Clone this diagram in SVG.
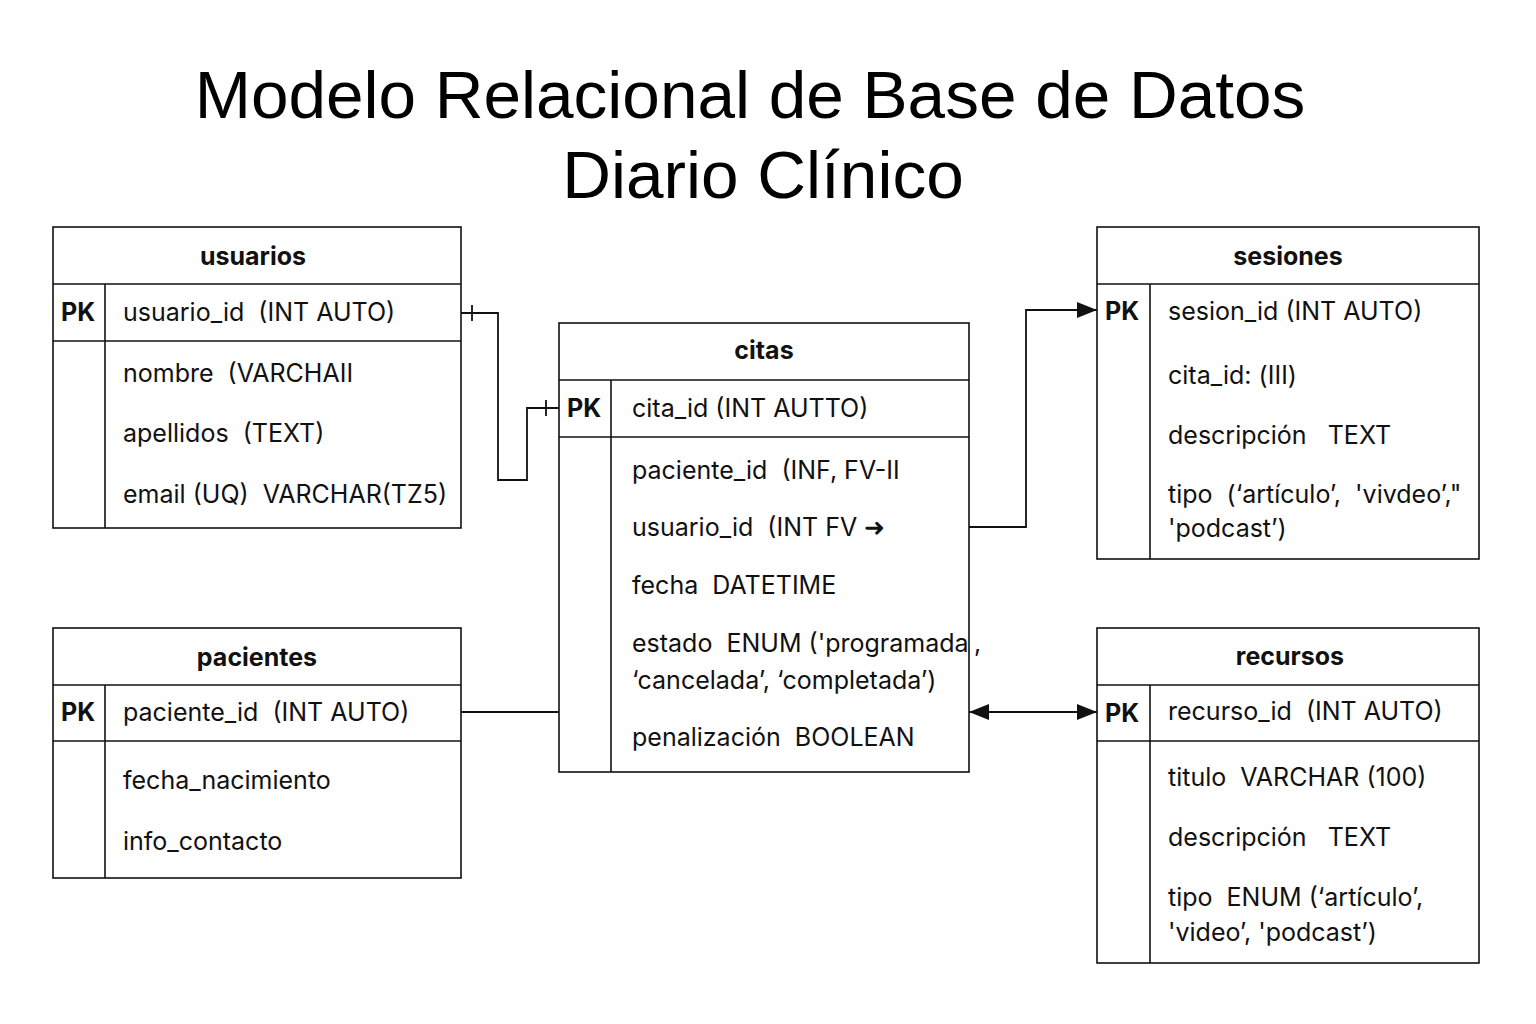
<svg xmlns="http://www.w3.org/2000/svg" width="1536" height="1024" viewBox="0 0 1536 1024" xml:space="preserve">
<defs>
<style>
text{white-space:pre}
.box{fill:#fff;stroke:#111;stroke-width:1.6}
.ln{stroke:#111;stroke-width:1.6;fill:none}
.t{font-family:Inter,"Liberation Sans",sans-serif;font-size:25px;fill:#111}
.h{font-family:Inter,"Liberation Sans",sans-serif;font-size:25px;font-weight:bold;fill:#111;text-anchor:middle}
.pk{font-family:Inter,"Liberation Sans",sans-serif;font-size:25px;font-weight:bold;fill:#111}
.title{font-family:"Liberation Sans",Arial,sans-serif;font-size:67.5px;fill:#000;text-anchor:middle}
.c{stroke:#111;stroke-width:1.8;fill:none}
</style>
<marker id="arrL" viewBox="0 0 20 16" refX="20" refY="8" markerWidth="20" markerHeight="16" markerUnits="userSpaceOnUse" orient="auto-start-reverse">
<path d="M0,0 L20,8 L0,16 Z" fill="#111"/>
</marker>
</defs>
<rect width="1536" height="1024" fill="#fff"/>
<text class="title" x="750" y="118">Modelo Relacional de Base de Datos</text>
<text class="title" x="763" y="198">Diario Clínico</text>

<g id="usuarios">
<rect class="box" x="53" y="227" width="408" height="301"/>
<line class="ln" x1="53" y1="284" x2="461" y2="284"/>
<line class="ln" x1="53" y1="341" x2="461" y2="341"/>
<line class="ln" x1="105" y1="284" x2="105" y2="528"/>
<text class="h" x="253" y="265">usuarios</text>
<text class="pk" x="61" y="321">PK</text>
<text class="t" x="123" y="321">usuario_id  (INT AUTO)</text>
<text class="t" x="123" y="382">nombre  (VARCHAⅡ</text>
<text class="t" x="123" y="442">apellidos  (TEXT)</text>
<text class="t" x="123" y="503">email (UQ)  VARCHAR(TZ5)</text>
</g>

<g id="citas">
<rect class="box" x="559" y="323" width="410" height="449"/>
<line class="ln" x1="559" y1="380" x2="969" y2="380"/>
<line class="ln" x1="559" y1="437" x2="969" y2="437"/>
<line class="ln" x1="611" y1="380" x2="611" y2="772"/>
<text class="h" x="764" y="359">citas</text>
<text class="pk" x="567" y="417">PK</text>
<text class="t" x="632" y="417">cita_id (INT AUTTO)</text>
<text class="t" x="632" y="479">paciente_id  (INF, FV-Ⅱ</text>
<text class="t" x="632" y="536">usuario_id  (INT FV ➜</text>
<text class="t" x="632" y="594">fecha  DATETIME</text>
<text class="t" x="632" y="652">estado  ENUM ('programada</text>
<text class="t" x="974" y="652">,</text>
<text class="t" x="632" y="689">‘cancelada’, ‘completada’)</text>
<text class="t" x="632" y="746">penalización  BOOLEAN</text>
</g>

<g id="sesiones">
<rect class="box" x="1097" y="227" width="382" height="332"/>
<line class="ln" x1="1097" y1="284" x2="1479" y2="284"/>
<line class="ln" x1="1150" y1="284" x2="1150" y2="559"/>
<text class="h" x="1288" y="265">sesiones</text>
<text class="pk" x="1105" y="320">PK</text>
<text class="t" x="1168" y="320">sesion_id (INT AUTO)</text>
<text class="t" x="1168" y="384">cita_id: (Ⅲ)</text>
<text class="t" x="1168" y="444">descripción   TEXT</text>
<text class="t" x="1168" y="503">tipo  (‘artículo’,  'vivdeo’,"</text>
<text class="t" x="1168" y="537">'podcast’)</text>
</g>

<g id="pacientes">
<rect class="box" x="53" y="628" width="408" height="250"/>
<line class="ln" x1="53" y1="685" x2="461" y2="685"/>
<line class="ln" x1="53" y1="741" x2="461" y2="741"/>
<line class="ln" x1="105" y1="685" x2="105" y2="878"/>
<text class="h" x="257" y="666">pacientes</text>
<text class="pk" x="61" y="721">PK</text>
<text class="t" x="123" y="721">paciente_id  (INT AUTO)</text>
<text class="t" x="123" y="789">fecha_nacimiento</text>
<text class="t" x="123" y="850">info_contacto</text>
</g>

<g id="recursos">
<rect class="box" x="1097" y="628" width="382" height="335"/>
<line class="ln" x1="1097" y1="685" x2="1479" y2="685"/>
<line class="ln" x1="1097" y1="741" x2="1479" y2="741"/>
<line class="ln" x1="1150" y1="685" x2="1150" y2="963"/>
<text class="h" x="1290" y="665">recursos</text>
<text class="pk" x="1105" y="722">PK</text>
<text class="t" x="1168" y="720">recurso_id  (INT AUTO)</text>
<text class="t" x="1168" y="786">titulo  VARCHAR (100)</text>
<text class="t" x="1168" y="846">descripción   TEXT</text>
<text class="t" x="1168" y="906">tipo  ENUM (‘artículo’,</text>
<text class="t" x="1168" y="941">'video’, 'podcast’)</text>
</g>

<g id="connectors">
<path class="c" d="M461,313 H498 V480 H527 V408 H559"/>
<line class="c" x1="472" y1="305" x2="472" y2="321"/>
<line class="c" x1="546" y1="400" x2="546" y2="416"/>
<path class="c" d="M969,527 H1026 V310 H1097" marker-end="url(#arrL)"/>
<line class="c" x1="461" y1="712" x2="559" y2="712"/>
<line class="c" x1="969" y1="712" x2="1097" y2="712" marker-start="url(#arrL)" marker-end="url(#arrL)"/>
</g>
</svg>
